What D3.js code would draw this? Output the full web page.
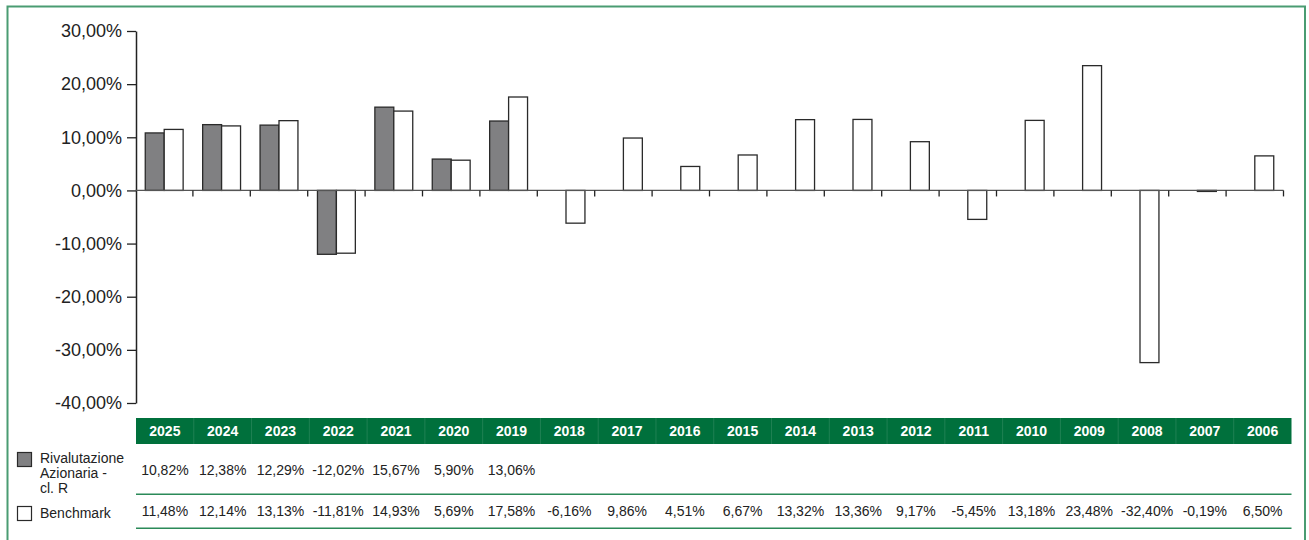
<!DOCTYPE html>
<html>
<head>
<meta charset="utf-8">
<script src="https://cdn.jsdelivr.net/npm/d3@7"></script>
<style>
  html, body { margin: 0; padding: 0; background: #fff; }
  svg { display: block; font-family: "Liberation Sans", Arial, sans-serif; }
</style>
</head>
<body>
<svg id="chart" width="1309" height="540"></svg>
<script>
const years = ["2025","2024","2023","2022","2021","2020","2019","2018","2017","2016","2015","2014","2013","2012","2011","2010","2009","2008","2007","2006"];
const fundValues = [10.82, 12.38, 12.29, -12.02, 15.67, 5.90, 13.06, null, null, null, null, null, null, null, null, null, null, null, null, null];
const benchValues = [11.48, 12.14, 13.13, -11.81, 14.93, 5.69, 17.58, -6.16, 9.86, 4.51, 6.67, 13.32, 13.36, 9.17, -5.45, 13.18, 23.48, -32.40, -0.19, 6.50];
const yTicks = [30, 20, 10, 0, -10, -20, -30, -40];
const seriesNames = ["Rivalutazione Azionaria - cl. R", "Benchmark"];
const legendLines = [["Rivalutazione", "Azionaria -", "cl. R"], ["Benchmark"]];
const seriesKeys = ["fund", "bench"];

const svg = d3.select("#chart");
const fmt = v => d3.format(".2f")(v).replace(".", ",").replace("−", "-") + "%";

// outer border
svg.append("rect").attr("x", 7.5).attr("y", 6.5).attr("width", 1297.5).attr("height", 560)
  .attr("fill", "none").attr("stroke", "#4a9c72").attr("stroke-width", 2);

const y = d3.scaleLinear().domain([-40, 30]).range([403, 31]);
const x0 = d3.scaleBand().domain(years).range([135.5, 1283.5]).padding(0);
const x1 = d3.scaleBand().domain(seriesKeys).range([x0.bandwidth() * 0.17, x0.bandwidth() * 0.83]).padding(0);

// y axis
const yAxis = d3.axisLeft(y).tickValues(yTicks).tickSize(9).tickSizeOuter(0).tickPadding(5)
  .tickFormat(d => fmt(d));
const gy = svg.append("g").attr("transform", "translate(136,0)").call(yAxis);
gy.select(".domain").attr("stroke", "#222").attr("stroke-width", 1.5);
gy.selectAll(".tick line").attr("stroke", "#222").attr("stroke-width", 1.3);
gy.selectAll(".tick text").attr("font-size", 18).attr("fill", "#222")
  .attr("font-family", "'Liberation Sans', Arial, sans-serif");

// bars
const rows = years.map((yr, i) => ({ year: yr, fund: fundValues[i], bench: benchValues[i] }));
const groups = svg.append("g").selectAll("g").data(rows).join("g")
  .attr("transform", d => `translate(${x0(d.year)},0)`);
groups.selectAll("rect")
  .data(d => seriesKeys.filter(k => d[k] !== null).map(k => ({ key: k, value: d[k] })))
  .join("rect")
  .attr("x", d => x1(d.key))
  .attr("width", x1.bandwidth())
  .attr("y", d => y(Math.max(0, d.value)))
  .attr("height", d => Math.max(0.5, Math.abs(y(d.value) - y(0))))
  .attr("fill", d => d.key === "fund" ? "#808082" : "#ffffff")
  .attr("stroke", "#2a2a2a")
  .attr("stroke-width", 1.3);

// category axis at zero
const y0 = y(0);
svg.append("line").attr("x1", x0.range()[0]).attr("x2", x0.range()[1])
  .attr("y1", y0).attr("y2", y0).attr("stroke", "#555").attr("stroke-width", 1.3);
svg.append("g").selectAll("line").data(years).join("line")
  .attr("x1", d => x0(d) + x0.step()).attr("x2", d => x0(d) + x0.step())
  .attr("y1", y0).attr("y2", y0 + 6).attr("stroke", "#222").attr("stroke-width", 1.3);

// data table
const tx = d3.scaleBand().domain(years).range([136, 1291.5]).padding(0);
svg.append("rect").attr("x", 136).attr("y", 418).attr("width", 1291.5 - 136).attr("height", 26)
  .attr("fill", "#00703c");
svg.append("g").selectAll("line").data(years.slice(1)).join("line")
  .attr("x1", d => tx(d)).attr("x2", d => tx(d)).attr("y1", 418).attr("y2", 444)
  .attr("stroke", "#ffffff").attr("stroke-opacity", 0.12).attr("stroke-width", 1);
svg.append("g").selectAll("text").data(years).join("text")
  .attr("x", d => tx(d) + tx.bandwidth() / 2).attr("y", 431).attr("dy", "0.35em")
  .attr("text-anchor", "middle").attr("font-size", 14).attr("font-weight", "bold")
  .attr("fill", "#ffffff").text(d => d);

const rowY = [470, 511];
const rowLines = [494.3, 528.3];
[fundValues, benchValues].forEach((vals, r) => {
  svg.append("g").selectAll("text").data(years).join("text")
    .attr("x", d => tx(d) + tx.bandwidth() / 2).attr("y", rowY[r]).attr("dy", "0.35em")
    .attr("text-anchor", "middle").attr("font-size", 14).attr("fill", "#222")
    .text((d, i) => vals[i] === null ? "" : fmt(vals[i]));
  svg.append("line").attr("x1", 136).attr("x2", 1291.5).attr("y1", rowLines[r]).attr("y2", rowLines[r])
    .attr("stroke", "#2b8a58").attr("stroke-width", 1.5);
});

// legend
const legendTop = [[452.5, 458.5], [506.5, 513.5]];
legendLines.forEach((lines, r) => {
  svg.append("rect").attr("x", 17.5).attr("y", legendTop[r][0]).attr("width", 14).attr("height", 14)
    .attr("fill", r === 0 ? "#808082" : "#ffffff").attr("stroke", "#2a2a2a").attr("stroke-width", 1.2);
  svg.append("g").selectAll("text").data(lines).join("text")
    .attr("x", 40).attr("y", (d, i) => legendTop[r][1] + i * 15).attr("dy", "0.35em")
    .attr("font-size", 14).attr("fill", "#222").text(d => d);
});
</script>
</body>
</html>
